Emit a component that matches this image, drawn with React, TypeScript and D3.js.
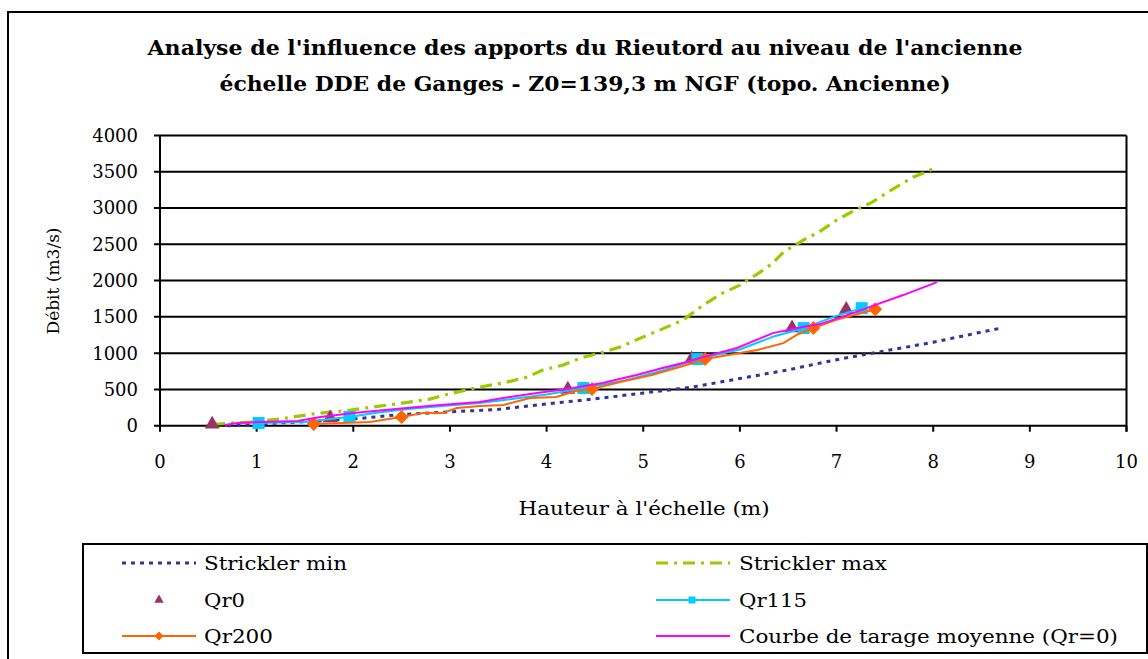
import React from 'react';
import * as d3 from 'd3';

const titleLines = [
  "Analyse de l'influence des apports du Rieutord au niveau de l'ancienne",
  "échelle DDE de Ganges - Z0=139,3 m NGF (topo. Ancienne)",
];
const xLabel = "Hauteur à l'échelle (m)";
const yLabel = 'Débit (m3/s)';
const xTicks = [0, 1, 2, 3, 4, 5, 6, 7, 8, 9, 10];
const yTicks = [0, 500, 1000, 1500, 2000, 2500, 3000, 3500, 4000];

const stricklerMin: [number, number][] = [
  [0.7, 0], [1.2, 35], [2.0, 92], [2.5, 155], [3.0, 190], [3.5, 225], [4.0, 300],
  [4.5, 370], [5.0, 450], [5.5, 530], [6.0, 650], [6.5, 770], [7.0, 910],
  [7.5, 1030], [8.0, 1150], [8.5, 1290], [8.7, 1345],
];
const stricklerMax: [number, number][] = [
  [0.55, 20], [0.93, 51], [1.24, 92], [1.58, 161], [1.97, 216], [2.2, 257], [2.51, 312],
  [2.79, 367], [3.03, 450], [3.31, 533], [3.55, 588], [3.8, 670], [3.96, 767],
  [4.17, 835], [4.35, 932], [4.55, 1000], [4.76, 1083], [4.97, 1207], [5.17, 1317],
  [5.41, 1455], [5.62, 1661], [5.82, 1827], [6.0, 1937], [6.21, 2116], [6.34, 2240],
  [6.45, 2391], [6.69, 2584], [6.8, 2653], [7.0, 2832], [7.19, 2970], [7.37, 3080],
  [7.53, 3217], [7.79, 3424], [8.04, 3561],
];
const qr0: [number, number][] = [
  [0.54, 20], [1.76, 105], [4.22, 500], [5.5, 920], [6.54, 1345], [7.1, 1600],
];
const qr115Line: [number, number][] = [
  [1.02, 37], [1.5, 51], [1.85, 106], [1.96, 120], [2.22, 175], [2.57, 230], [2.92, 271],
  [3.31, 312], [3.6, 360], [4.0, 430], [4.38, 519], [4.8, 620], [5.2, 760], [5.56, 918],
  [6.0, 1050], [6.35, 1230], [6.66, 1345], [6.97, 1500], [7.26, 1620],
];
const qr115Marks: [number, number][] = [
  [1.02, 37], [1.96, 120], [4.38, 519], [5.56, 918], [6.66, 1345], [7.26, 1620],
];
const qr200Line: [number, number][] = [
  [1.59, 23], [2.17, 51], [2.5, 120], [2.72, 175], [2.93, 175], [3.07, 244], [3.31, 271],
  [3.55, 285], [3.83, 381], [4.1, 395], [4.3, 478], [4.47, 505], [4.76, 601], [5.09, 698],
  [5.41, 822], [5.64, 918], [6.18, 1042], [6.45, 1138], [6.6, 1260], [6.76, 1345],
  [6.99, 1455], [7.4, 1605],
];
const qr200Marks: [number, number][] = [
  [1.59, 23], [2.5, 120], [4.47, 505], [5.64, 918], [6.76, 1345], [7.4, 1605],
];
const courbeMoyenne: [number, number][] = [
  [0.67, 10], [0.8, 37], [1.04, 51], [1.42, 65], [1.66, 120], [2.0, 175], [2.55, 244],
  [2.9, 285], [3.31, 326], [3.55, 381], [3.9, 450], [4.21, 505], [4.58, 588], [4.93, 698],
  [5.2, 794], [5.45, 877], [5.62, 946], [5.97, 1070], [6.34, 1276], [6.65, 1359],
  [6.83, 1400], [7.17, 1551], [7.38, 1655], [7.69, 1800], [8.04, 1978],
];

const legendNames = [
  'Strickler min', 'Strickler max', 'Qr0', 'Qr115', 'Qr200', 'Courbe de tarage moyenne (Qr=0)',
];

const FONT = "'DejaVu Serif', 'Liberation Serif', serif";
const C_MIN = '#333399';
const C_MAX = '#99CC00';
const C_QR0 = '#993366';
const C_QR115 = '#00CCFF';
const C_QR200 = '#FF6600';
const C_MOY = '#FF00FF';

const triPath = d3.symbol(d3.symbolTriangle, 95)() as string;
const triSmall = d3.symbol(d3.symbolTriangle, 38)() as string;
const sq = (s: number) => `M${-s / 2},${-s / 2}h${s}v${s}h${-s}Z`;
const dia = (s: number) => `M0,${-s}L${s},0L0,${s}L${-s},0Z`;

export default function App() {
  const x = d3.scaleLinear().domain([0, 10]).range([160, 1126.5]);
  const y = d3.scaleLinear().domain([0, 4000]).range([425.7, 135.4]);
  const line = d3.line<[number, number]>().x(d => x(d[0])).y(d => y(d[1]));

  const legendRows = [563, 600, 636];
  const lcol = { x1: 122, x2: 196, tx: 204 };
  const rcol = { x1: 656, x2: 730, tx: 739 };
  const legendLens = [143, 148, 41, 68, 69, 379];

  return (
    <svg width={1148} height={659} style={{ position: 'absolute', left: 0, top: 0, background: '#fff' }}
      fontFamily={FONT}>
      <rect x={0} y={0} width={1148} height={659} fill="#fff" />
      <rect x={8} y={12} width={1160} height={680} fill="none" stroke="#000" strokeWidth={2} />

      {titleLines.map((t, i) => (
        <text key={i} x={585} y={55 + i * 35.5} textAnchor="middle" fontWeight="bold" fontSize={20}
          textLength={i === 0 ? 875 : 731} lengthAdjust="spacingAndGlyphs">{t}</text>
      ))}

      {/* grid lines */}
      {yTicks.map(v => (
        <line key={v} x1={154} x2={x(10)} y1={y(v)} y2={y(v)} stroke="#000" strokeWidth={2} />
      ))}
      <line x1={x(0)} x2={x(0)} y1={y(4000)} y2={y(0) + 1} stroke="#000" strokeWidth={2} />
      <line x1={x(10)} x2={x(10)} y1={y(4000)} y2={y(0) + 6} stroke="#000" strokeWidth={2} />
      {xTicks.map(v => (
        <line key={v} x1={x(v)} x2={x(v)} y1={y(0)} y2={y(0) + 6} stroke="#000" strokeWidth={2} />
      ))}

      {yTicks.map(v => (
        <text key={v} x={138} y={y(v) + 6.5} textAnchor="end" fontSize={18}>{v}</text>
      ))}
      {xTicks.map(v => (
        <text key={v} x={x(v)} y={468} textAnchor="middle" fontSize={18}>{v}</text>
      ))}
      <text x={644} y={515} textAnchor="middle" fontSize={18} textLength={251} lengthAdjust="spacingAndGlyphs">{xLabel}</text>
      <text transform="translate(59,281) rotate(-90)" textAnchor="middle" fontSize={16}
        textLength={107} lengthAdjust="spacingAndGlyphs">{yLabel}</text>

      {/* series */}
      <path d={line(stricklerMin) as string} fill="none" stroke={C_MIN} strokeWidth={3} strokeDasharray="4,5" />
      <path d={line(stricklerMax) as string} fill="none" stroke={C_MAX} strokeWidth={3.2} strokeDasharray="12,6,3,6" />
      {qr0.map((d, i) => (
        <path key={i} d={triPath} transform={`translate(${x(d[0])},${y(d[1])})`} fill={C_QR0} />
      ))}
      <path d={line(qr115Line) as string} fill="none" stroke={C_QR115} strokeWidth={2} />
      {qr115Marks.map((d, i) => (
        <path key={i} d={sq(12)} transform={`translate(${x(d[0])},${y(d[1])})`} fill={C_QR115} />
      ))}
      <path d={line(qr200Line) as string} fill="none" stroke={C_QR200} strokeWidth={2} />
      {qr200Marks.map((d, i) => (
        <path key={i} d={dia(7)} transform={`translate(${x(d[0])},${y(d[1])})`} fill={C_QR200} />
      ))}
      <path d={line(courbeMoyenne) as string} fill="none" stroke={C_MOY} strokeWidth={2} />

      {/* legend */}
      <rect x={83} y={544} width={1064} height={109} fill="#fff" stroke="#000" strokeWidth={2} />
      {legendNames.map((n, i) => {
        const col = i % 2 === 0 ? lcol : rcol;
        const ry = legendRows[Math.floor(i / 2)];
        return (
          <text key={n} x={col.tx} y={ry + 7} fontSize={19} textLength={legendLens[i]}
            lengthAdjust="spacingAndGlyphs">{n}</text>
        );
      })}
      <line x1={lcol.x1} x2={lcol.x2} y1={563} y2={563} stroke={C_MIN} strokeWidth={3} strokeDasharray="4,5" />
      <line x1={rcol.x1} x2={rcol.x2} y1={563} y2={563} stroke={C_MAX} strokeWidth={3} strokeDasharray="12,6,3,6" />
      <path d={triSmall} transform={`translate(159,600)`} fill={C_QR0} />
      <line x1={rcol.x1} x2={rcol.x2} y1={600} y2={600} stroke={C_QR115} strokeWidth={2} />
      <path d={sq(7)} transform={`translate(692,600)`} fill={C_QR115} />
      <line x1={lcol.x1} x2={lcol.x2} y1={636} y2={636} stroke={C_QR200} strokeWidth={2} />
      <path d={dia(4.5)} transform={`translate(159,636)`} fill={C_QR200} />
      <line x1={rcol.x1} x2={rcol.x2} y1={636} y2={636} stroke={C_MOY} strokeWidth={2} />
    </svg>
  );
}
